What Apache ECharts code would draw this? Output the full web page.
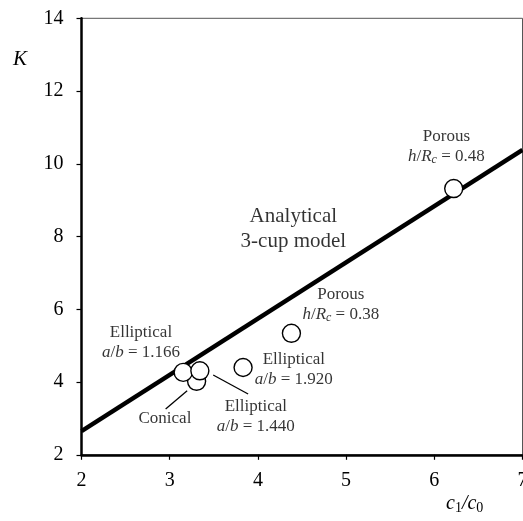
<!DOCTYPE html>
<html>
<head>
<meta charset="utf-8">
<script src="https://cdn.jsdelivr.net/npm/echarts@6/dist/echarts.min.js"></script>
<style>
  html, body { margin: 0; padding: 0; background: #fff; }
  #chart { width: 523px; height: 521px; }
</style>
</head>
<body>
<div id="chart"></div>
<script>
// Analytical 3-cup model (straight line over the axis range)
const modelRatio = [2, 7];
const modelK = [2.65, 10.38];

// Measured cup geometries: concentration ratio c1/c0 and K
const cupNames = ['Conical', 'Elliptical a/b = 1.166', 'Elliptical a/b = 1.440',
                  'Elliptical a/b = 1.920', 'Porous h/Rc = 0.38', 'Porous h/Rc = 0.48'];
const cupRatio = [3.305, 3.153, 3.342, 3.832, 4.38, 6.22];
const cupK = [4.02, 4.265, 4.31, 4.40, 5.34, 9.32];

// Axis ticks
const xTicks = [2, 3, 4, 5, 6, 7];
const yTicks = [2, 4, 6, 8, 10, 12, 14];

const FONT = '"Liberation Serif", "DejaVu Serif", serif';

const rich = {
  n: { fontFamily: FONT, fontSize: 17, color: '#000' },
  i: { fontFamily: FONT, fontSize: 17, fontStyle: 'italic', color: '#000' },
  s: { fontFamily: FONT, fontSize: 12, fontStyle: 'italic', color: '#000', padding: [7, 0, 0, 0] },
  big: { fontFamily: FONT, fontSize: 21, color: '#000', lineHeight: 25 }
};

// Text notes anchored in data space
const notes = [
  { at: [6.137, 10.48], text: '{n|Porous}\n{i|h}{n|/}{i|R}{s|c}{n| = 0.48}' },
  { at: [4.940, 6.13], text: '{n|Porous}\n{i|h}{n|/}{i|R}{s|c}{n| = 0.38}' },
  { at: [4.402, 8.20], text: '{big|Analytical}\n{big|3-cup model}' },
  { at: [2.674, 5.09], text: '{n|Elliptical}\n{i|a}{n|/}{i|b}{n| = 1.166}' },
  { at: [4.407, 4.34], text: '{n|Elliptical}\n{i|a}{n|/}{i|b}{n| = 1.920}' },
  { at: [3.976, 3.06], text: '{n|Elliptical}\n{i|a}{n|/}{i|b}{n| = 1.440}' },
  { at: [2.946, 3.01], text: '{n|Conical}' }
];

// Leader lines from labels to their points
const leaders = [
  [[2.954, 3.256], [3.198, 3.76]],
  [[3.493, 4.193], [3.889, 3.67]]
];

const chart = echarts.init(document.getElementById('chart'), null, { renderer: 'canvas' });

chart.setOption({
  animation: false,
  backgroundColor: '#fff',
  grid: {
    left: 81.5, top: 18.3, width: 441, height: 436.5,
    containLabel: false,
    outerBoundsMode: 'none',
    show: true, borderColor: '#555', borderWidth: 1, backgroundColor: 'transparent'
  },
  xAxis: {
    type: 'value', min: xTicks[0], max: xTicks[xTicks.length - 1], interval: 1,
    axisLine: { show: true, onZero: false, lineStyle: { color: '#000', width: 2.5 } },
    axisTick: { show: true, length: 5, lineStyle: { color: '#000', width: 1.2 } },
    axisLabel: { fontFamily: FONT, fontSize: 20, color: '#000', margin: 16, hideOverlap: false },
    splitLine: { show: false }
  },
  yAxis: {
    type: 'value', min: yTicks[0], max: yTicks[yTicks.length - 1], interval: 2,
    axisLine: { show: true, onZero: false, lineStyle: { color: '#000', width: 2.5 } },
    axisTick: { show: true, length: 5, lineStyle: { color: '#000', width: 1.2 } },
    axisLabel: { fontFamily: FONT, fontSize: 20, color: '#000', margin: 18 },
    splitLine: { show: false }
  },
  graphic: [
    { type: 'text', left: 13, top: 49,
      style: { text: 'K', font: 'italic 21px ' + FONT, fill: '#000' } },
    { type: 'text', left: 446, top: 494,
      style: {
        text: '{i|c}{s|1}{i|/c}{s|0}',
        rich: {
          i: { fontFamily: FONT, fontSize: 20, fontStyle: 'italic', fill: '#000', color: '#000' },
          s: { fontFamily: FONT, fontSize: 14, fill: '#000', color: '#000', padding: [9, 0, 0, 0] }
        }
      } }
  ],
  series: [
    {
      name: 'Analytical 3-cup model',
      type: 'line',
      data: modelRatio.map((x, i) => [x, modelK[i]]),
      symbol: 'none',
      lineStyle: { color: '#000', width: 4.4 },
      clip: true,
      z: 2
    },
    {
      name: 'Cups',
      type: 'scatter',
      data: cupRatio.map((x, i) => ({ name: cupNames[i], value: [x, cupK[i]] })),
      symbol: 'circle',
      symbolSize: 18,
      itemStyle: { color: '#fff', borderColor: '#000', borderWidth: 1.4, opacity: 1 },
      z: 3
    },
    {
      name: 'Notes',
      type: 'scatter',
      symbolSize: 0,
      silent: true,
      itemStyle: { color: '#000' },
      data: notes.map(n => ({
        value: n.at,
        label: {
          show: true, position: 'inside', formatter: n.text, rich: rich,
          color: '#000', textBorderWidth: 0, lineHeight: 20,
          align: 'center', verticalAlign: 'middle'
        }
      })),
      markLine: {
        silent: true,
        symbol: 'none',
        label: { show: false },
        lineStyle: { color: '#000', width: 1.3, type: 'solid' },
        data: leaders.map(l => [{ coord: l[0] }, { coord: l[1] }])
      },
      z: 4
    }
  ]
});
</script>
</body>
</html>
